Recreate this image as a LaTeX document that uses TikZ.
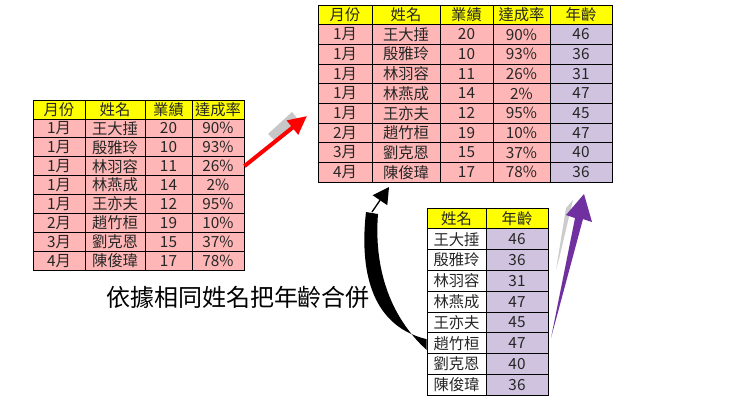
\documentclass[tikz,border=0pt]{standalone}
\usepackage{fontspec}
\setmainfont{Noto Sans CJK TC}
\usetikzlibrary{arrows.meta}
\definecolor{hdr}{HTML}{FFFF00}
\definecolor{pk}{HTML}{FFB6B6}
\definecolor{lv}{HTML}{CFC3E0}
\definecolor{pa}{HTML}{7030A0}
\tikzset{cell/.style={draw=black,line width=0.6pt,inner sep=0pt,font=\fontsize{11.5}{13}\selectfont,text=black!85}}
% name, xleft, xright, ytop, height, fill, text
\newcommand{\mycell}[7]{\node[cell,fill=#6,minimum width={(#3-#2)*0.75pt},minimum height={#5*0.75pt}] (#1) at ({(#2+#3)/2},{#4+#5/2}) {#7};}
\begin{document}
\begin{tikzpicture}[x=0.75pt,y=-0.75pt]
\useasboundingbox (0,0) rectangle (740,407);
% left table
\foreach [count=\r from 0] \a/\b/\c/\d in {月份/姓名/業績/達成率,1月/王大捶/20/90\%,1月/殷雅玲/10/93\%,1月/林羽容/11/26\%,1月/林燕成/14/2\%,1月/王亦夫/12/95\%,2月/趙竹桓/19/10\%,3月/劉克恩/15/37\%,4月/陳俊瑋/17/78\%}{
  \ifnum\r=0 \def\f{hdr}\else\def\f{pk}\fi
  \pgfmathsetmacro\yt{100+\r*18.9}
  \mycell{L\r a}{33}{85}{\yt}{18.9}{\f}{\a}
  \mycell{L\r b}{85}{145}{\yt}{18.9}{\f}{\b}
  \mycell{L\r c}{145}{192}{\yt}{18.9}{\f}{\c}
  \mycell{L\r d}{192}{244}{\yt}{18.9}{\f}{\d}
}
% top right table
\foreach [count=\r from 0] \a/\b/\c/\d/\e in {月份/姓名/業績/達成率/年齡,1月/王大捶/20/90\%/46,1月/殷雅玲/10/93\%/36,1月/林羽容/11/26\%/31,1月/林燕成/14/2\%/47,1月/王亦夫/12/95\%/45,2月/趙竹桓/19/10\%/47,3月/劉克恩/15/37\%/40,4月/陳俊瑋/17/78\%/36}{
  \ifnum\r=0 \def\f{hdr}\def\g{hdr}\else\def\f{pk}\def\g{lv}\fi
  \pgfmathsetmacro\yt{5+\r*19.67}
  \mycell{R\r a}{318}{372}{\yt}{19.67}{\f}{\a}
  \mycell{R\r b}{372}{440}{\yt}{19.67}{\f}{\b}
  \mycell{R\r c}{440}{493}{\yt}{19.67}{\f}{\c}
  \mycell{R\r d}{493}{550}{\yt}{19.67}{\f}{\d}
  \mycell{R\r e}{550}{612}{\yt}{19.67}{\g}{\e}
}
% bottom table
\foreach [count=\r from 0] \a/\b in {姓名/年齡,王大捶/46,殷雅玲/36,林羽容/31,林燕成/47,王亦夫/45,趙竹桓/47,劉克恩/40,陳俊瑋/36}{
  \ifnum\r=0 \def\f{hdr}\def\g{hdr}\else\def\f{white}\def\g{lv}\fi
  \pgfmathsetmacro\yt{208+\r*20.8}
  \mycell{B\r a}{427}{486}{\yt}{20.8}{\f}{\a}
  \mycell{B\r b}{486}{548}{\yt}{20.8}{\g}{\b}
}
\node[font=\fontsize{18}{22}\selectfont] (cap) at (238,297) {依據相同姓名把年齡合併};
% red arrow
\coordinate (rt) at (307,116);
\fill[black!22] (268,134) -- (292,112) -- (300,122) -- (274,140) -- cycle;
\draw[red,line width=3pt,-{Triangle[length=14pt,width=13pt]}] (L3d.east) -- (rt);
% black curved arrow
\coordinate (bt) at (389,187);
\fill[black] ([yshift=3pt]B6a.west) .. controls (368,325) and (360,265) .. (366,212) -- (378,214) .. controls (374,265) and (388,315) .. ([yshift=-5pt]B6a.west) -- cycle;
\draw[line width=1pt,-{Triangle[length=12pt,width=13pt]}] (372,212) -- (bt);
% purple arrow
\coordinate (pt) at (584,194);
\fill[black!20] (573,200) -- (560,255) -- (556,270) -- (566,208) -- cycle;
\fill[pa] ([xshift=2pt,yshift=-4pt]B6b.north east) -- (575,218) -- (566,215) -- (pt) -- (592,222) -- (583,219) -- cycle;
\end{tikzpicture}
\end{document}
